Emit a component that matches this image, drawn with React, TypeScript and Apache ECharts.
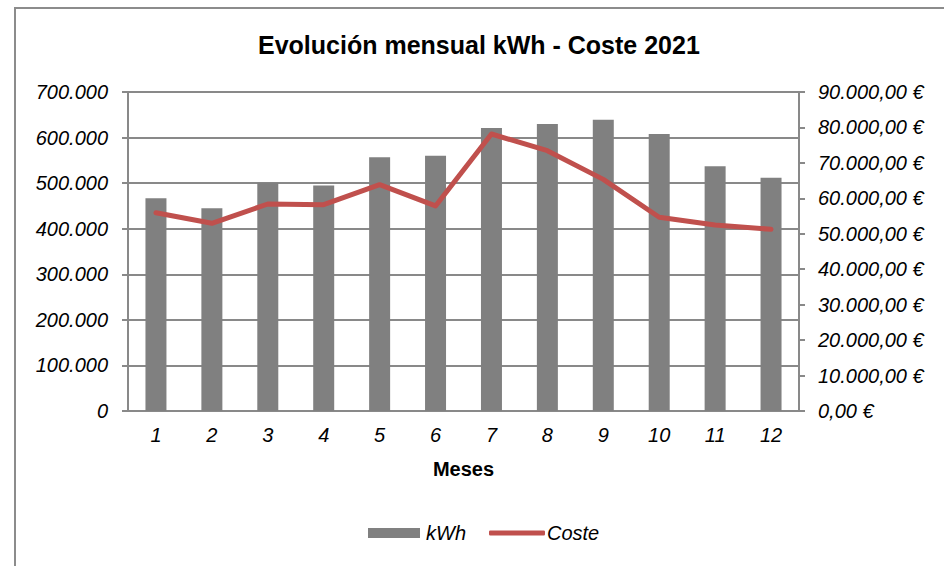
import React, { useEffect, useRef } from "react";
import * as echarts from "echarts";

const months = ["1", "2", "3", "4", "5", "6", "7", "8", "9", "10", "11", "12"];
const kwhValues = [467000, 445000, 501000, 495000, 557000, 560000, 621000, 630000, 639000, 608000, 537000, 512000];
const costeValues = [55950, 52950, 58400, 58200, 63850, 57850, 78150, 73450, 65350, 54650, 52500, 51250];

const FONT = "'Liberation Sans', Arial, sans-serif";
const GRAY = "#898989";

function thousands(n: number): string {
  return String(Math.round(n)).replace(/\B(?=(\d{3})+(?!\d))/g, ".");
}

export default function App() {
  const ref = useRef<HTMLDivElement>(null);
  useEffect(() => {
    if (!ref.current) return;
    const chart = echarts.init(ref.current, null, { renderer: "svg" });
    const labelStyle = { fontFamily: FONT, fontSize: 20, fontStyle: "italic" as const, color: "#000" };
    chart.setOption({
      animation: false,
      backgroundColor: "#fff",
      textStyle: { fontFamily: FONT },
      title: {
        text: "Evolución mensual kWh - Coste 2021",
        left: 258,
        top: 32,
        padding: 0,
        textStyle: { fontFamily: FONT, fontSize: 25, fontWeight: "bold", color: "#000" },
      },
      graphic: [
        {
          type: "rect",
          shape: { x: 15, y: 8, width: 960, height: 600 },
          style: { fill: "none", stroke: "#8c8c8c", lineWidth: 2 },
          silent: true,
        },
      ],
      legend: [
        {
          data: ["kWh"],
          left: 368,
          top: 523,
          padding: 0,
          itemWidth: 52,
          itemHeight: 10,
          itemGap: 6,
          icon: "rect",
          textStyle: { ...labelStyle, padding: [0, 0, 0, 1] },
        },
        {
          data: ["Coste"],
          left: 489,
          top: 523,
          padding: 0,
          itemWidth: 56,
          itemHeight: 5,
          icon: "roundRect",
          textStyle: { ...labelStyle, padding: [0, 0, 0, -3] },
        },
      ],
      grid: { left: 128, right: 145, top: 92, bottom: 155 },
      xAxis: {
        type: "category",
        data: months,
        name: "Meses",
        nameLocation: "middle",
        nameGap: 48,
        nameTextStyle: { fontFamily: FONT, fontSize: 20, fontWeight: "bold", color: "#000" },
        axisLine: { show: true, lineStyle: { color: GRAY, width: 2 } },
        axisTick: { show: false },
        axisLabel: { ...labelStyle, margin: 14 },
      },
      yAxis: [
        {
          type: "value",
          min: 0,
          max: 700000,
          interval: 100000,
          position: "left",
          axisLine: { show: true, lineStyle: { color: GRAY, width: 2 } },
          axisTick: { show: true, length: 6, lineStyle: { color: GRAY, width: 2 } },
          splitLine: { show: true, lineStyle: { color: GRAY, width: 2 } },
          axisLabel: { ...labelStyle, margin: 20, formatter: (v: number) => thousands(v) },
        },
        {
          type: "value",
          min: 0,
          max: 90000,
          interval: 10000,
          position: "right",
          axisLine: { show: true, lineStyle: { color: GRAY, width: 2 } },
          axisTick: { show: true, length: 6, lineStyle: { color: GRAY, width: 2 } },
          splitLine: { show: false },
          axisLabel: { ...labelStyle, margin: 19, formatter: (v: number) => thousands(v) + ",00 €" },
        },
      ],
      series: [
        {
          name: "kWh",
          type: "bar",
          data: kwhValues,
          yAxisIndex: 0,
          barWidth: 21,
          itemStyle: { color: "#808080" },
        },
        {
          name: "Coste",
          type: "line",
          data: costeValues,
          yAxisIndex: 1,
          showSymbol: false,
          symbol: "none",
          lineStyle: { color: "#c0504d", width: 5, join: "round", cap: "round" },
          itemStyle: { color: "#c0504d" },
        },
      ],
    });
    return () => chart.dispose();
  }, []);
  return <div ref={ref} style={{ position: "fixed", left: 0, top: 0, width: 944, height: 566 }} />;
}
